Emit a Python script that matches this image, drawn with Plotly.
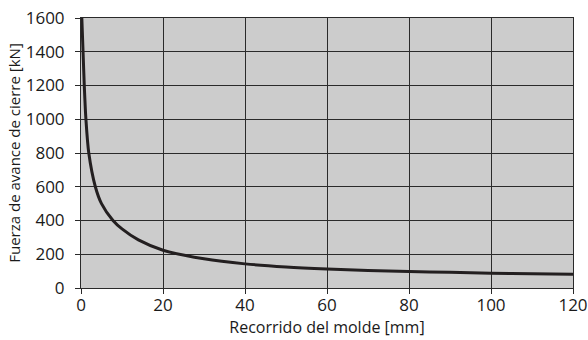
import plotly.graph_objects as go

stroke_mm = [0.2, 0.5, 0.8, 1.2, 1.9, 3.5, 5.0, 7.8, 10, 14, 20, 30, 40, 50, 60, 70, 80, 90, 100, 110, 120]
force_kn = [1600, 1400, 1200, 1000, 800, 600, 500, 400, 350, 285, 224, 173, 143, 125, 113, 104, 98, 93, 88, 85, 82]
x_ticks = [0, 20, 40, 60, 80, 100, 120]
y_ticks = [0, 200, 400, 600, 800, 1000, 1200, 1400, 1600]

fig = go.Figure()
fig.add_trace(go.Scatter(
    x=stroke_mm, y=force_kn, mode="lines",
    line=dict(color="#231f20", width=3, shape="spline", smoothing=0.8),
    hoverinfo="skip", showlegend=False,
))

font_family = "Open Sans, DejaVu Sans, sans-serif"
axis_common = dict(
    showgrid=True, gridcolor="#2a2a2a", gridwidth=1,
    showline=True, linecolor="#2a2a2a", linewidth=1, mirror=True,
    ticks="outside", ticklen=5, tickcolor="#2a2a2a", tickwidth=1,
    zeroline=False, automargin=False,
    tickfont=dict(family=font_family, size=17, color="#1a1a1a"),
)

fig.update_layout(
    width=588, height=340,
    margin=dict(l=81, r=15, t=18, b=52),
    paper_bgcolor="white", plot_bgcolor="#cccccc",
    xaxis=dict(range=[0, 120], tickvals=x_ticks, ticklabelstandoff=-3,
               title=dict(text="Recorrido del molde [mm]", standoff=5,
                          font=dict(family=font_family, size=16, color="#1a1a1a")),
               **axis_common),
    yaxis=dict(range=[0, 1600], tickvals=y_ticks, ticklabelstandoff=7,
               title=dict(text="Fuerza de avance de cierre [kN]", standoff=1,
                          font=dict(family=font_family, size=15, color="#1a1a1a")),
               **axis_common),
)

fig.write_html("out.html", config={"displayModeBar": False},
               post_script="document.body.style.margin='0';")
